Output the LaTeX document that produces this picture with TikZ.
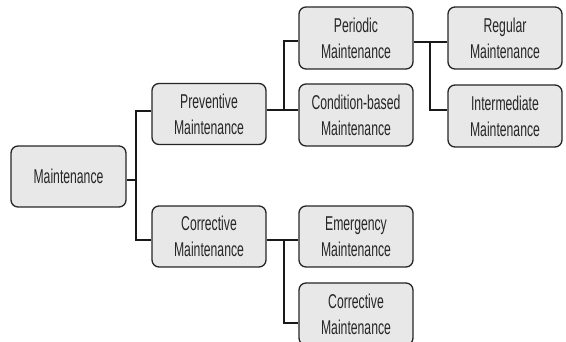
\documentclass[tikz,border=0pt]{standalone}
\usepackage{fontspec}
\setmainfont[FakeStretch=0.61]{Liberation Sans}
\begin{document}
\begin{tikzpicture}[x=1pt,y=-1pt,
  box/.style={draw=black!85, line width=1.3pt, fill=black!9, rounded corners=7pt,
    minimum width=114pt, minimum height=61pt, inner sep=0pt, align=center,
    font=\fontsize{20}{26}\selectfont, text=black!85},
  conn/.style={line width=2pt, draw=black!90}]
\useasboundingbox (0,0) rectangle (566,342);
\begin{scope}
\clip (0,0) rectangle (566,342);
\node[box, minimum width=115pt] (m) at (68.5,176.5) {Maintenance};
\node[box] (p) at (209,114) {Preventive\\Maintenance};
\node[box] (c) at (209,236.5) {Corrective\\Maintenance};
\node[box, minimum height=62pt] (pm) at (356,38) {Periodic\\Maintenance};
\node[box, minimum height=62pt] (cb) at (356,115) {Condition-based\\Maintenance};
\node[box, minimum height=62pt] (rm) at (505,38) {Regular\\Maintenance};
\node[box, minimum height=62pt] (im) at (505,116) {Intermediate\\Maintenance};
\node[box] (em) at (356,236.5) {Emergency\\Maintenance};
\node[box, minimum height=62pt] (cm) at (356,314) {Corrective\\Maintenance};

\coordinate (j1) at (136,180);
\coordinate (j2) at (284,110);
\coordinate (j3) at (284,240);
\coordinate (j4) at (430,42);

\draw[conn] (m.east |- j1) -- (j1);
\draw[conn] (j1) |- (p.west |- 0,111);
\draw[conn] (j1) |- (c.west |- 0,240);

\draw[conn] (p.east |- j2) -- (j2);
\draw[conn] (j2) |- (pm.west |- 0,41);
\draw[conn] (j2) -- (cb.west |- j2);

\draw[conn] (c.east |- j3) -- (j3);
\draw[conn] (j3) -- (em.west |- j3);
\draw[conn] (j3) |- (cm.west |- 0,323);

\draw[conn] (pm.east |- j4) -- (rm.west |- j4);
\draw[conn] (j4) |- (im.west |- 0,110);
\end{scope}
\end{tikzpicture}
\end{document}
